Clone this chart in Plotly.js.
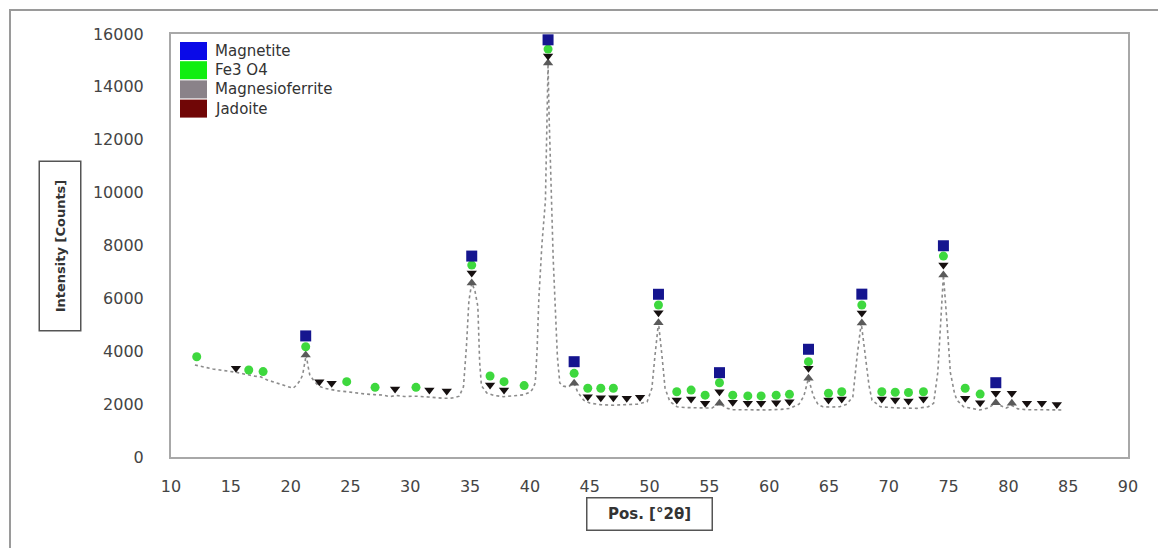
<!DOCTYPE html>
<html>
<head>
<meta charset="utf-8">
<script src="https://cdn.plot.ly/plotly-3.0.1.min.js"></script>
<style>html,body{margin:0;padding:0;background:#fff;}#chart{width:1158px;height:548px;}</style>
</head>
<body>
<div id="chart"></div>
<script>
// ---- Diffraction pattern ----
const patternX = [12.0, 12.5, 13.0, 13.5, 14.0, 14.5, 15.0, 15.5, 16.0, 16.5, 17.0, 17.5, 18.0, 18.5, 19.0, 19.5, 20.0, 20.2, 20.5, 20.8, 21.0, 21.15, 21.3, 21.45, 21.6, 21.9, 22.3, 22.8, 23.5, 24.0, 24.7, 25.5, 26.3, 27.0, 27.75, 28.3, 28.8, 29.5, 30.5, 31.5, 32.0, 32.75, 33.5, 34.1, 34.45, 34.7, 34.9, 35.14, 35.4, 35.65, 35.8, 35.95, 36.4, 37.0, 37.8, 38.5, 39.45, 40.0, 40.2, 40.45, 40.6, 40.75, 41.0, 41.3, 41.45, 41.52, 41.6, 41.8, 41.95, 42.1, 42.3, 42.5, 42.8, 43.2, 43.7, 44.0, 44.5, 45.0, 45.9, 47.0, 48.1, 49.0, 49.8, 50.2, 50.45, 50.75, 51.05, 51.3, 51.7, 52.3, 53.0, 54.5, 55.2, 55.85, 56.4, 57.0, 58.0, 59.8, 61.0, 61.75, 62.5, 62.9, 63.29, 63.7, 64.1, 64.5, 65.2, 65.9, 66.5, 67.0, 67.35, 67.7, 68.05, 68.35, 68.6, 69.3, 70.5, 72.35, 73.3, 73.75, 74.1, 74.35, 74.57, 74.85, 75.15, 75.5, 75.7, 76.25, 77.0, 77.6, 78.3, 78.75, 78.95, 79.3, 79.8, 80.3, 80.8, 81.5, 82.5, 83.5, 84.6];
const patternY = [3480, 3420, 3380, 3330, 3300, 3260, 3240, 3200, 3150, 3100, 3060, 3030, 2920, 2850, 2780, 2700, 2650, 2600, 2720, 2900, 3100, 3450, 3860, 3450, 3100, 2910, 2700, 2600, 2530, 2500, 2470, 2420, 2380, 2360, 2340, 2280, 2330, 2290, 2300, 2270, 2250, 2220, 2230, 2300, 2660, 4200, 5900, 6580, 6300, 5700, 3600, 2700, 2420, 2330, 2280, 2300, 2350, 2450, 2550, 2800, 4000, 6000, 8000, 9700, 13000, 14900, 13000, 9700, 7500, 5900, 3800, 2800, 2680, 2650, 2790, 2450, 2150, 2040, 1980, 1960, 1970, 2000, 2090, 2600, 3800, 5080, 3800, 2600, 2100, 1900, 1870, 1840, 1850, 2030, 1850, 1790, 1780, 1780, 1800, 1840, 2000, 2300, 2975, 2300, 1980, 1900, 1890, 1900, 2000, 2280, 3800, 5070, 3800, 2700, 2150, 1900, 1860, 1840, 1900, 2030, 3200, 5200, 6885, 5200, 3200, 2400, 2150, 1900, 1820, 1780, 1850, 1970, 2050, 1950, 1850, 1950, 1820, 1790, 1780, 1780, 1780];

// ---- Phase markers ----
const phaseNames = ["Magnetite", "Fe3 O4", "Magnesioferrite", "Jadoite"];

const magnetiteX = [21.26, 35.14, 41.52, 43.70, 50.75, 55.85, 63.29, 67.75, 74.57, 78.95];
const magnetiteY = [4580, 7600, 15780, 3605, 6155, 3190, 4075, 6160, 7990, 2810];

const fe3o4X = [12.15, 16.5, 17.7, 21.26, 24.69, 27.06, 30.48, 35.14, 36.67, 37.84, 39.52, 41.52, 43.70, 44.84, 45.93, 46.98, 50.75, 52.28, 53.48, 54.65, 55.85, 56.96, 58.22, 59.33, 60.59, 61.70, 63.29, 64.96, 66.07, 67.75, 69.42, 70.54, 71.65, 72.9, 74.57, 76.39, 77.64];
const fe3o4Y = [3790, 3290, 3230, 4170, 2850, 2635, 2635, 7260, 3065, 2850, 2700, 15430, 3165, 2600, 2600, 2600, 5750, 2470, 2530, 2340, 2810, 2340, 2310, 2310, 2340, 2370, 3605, 2410, 2470, 5750, 2470, 2450, 2440, 2470, 7600, 2600, 2380];

const magnesioX = [21.26, 35.14, 41.52, 43.70, 50.75, 55.85, 63.29, 67.75, 74.57, 78.95, 80.29];
const magnesioY = [3860, 6580, 14900, 2790, 5080, 2030, 2975, 5070, 6885, 2055, 2030];

const jadoiteX = [15.43, 22.4, 23.43, 28.73, 31.6, 33.05, 35.14, 36.67, 37.84, 41.52, 44.84, 45.93, 46.98, 48.1, 49.21, 50.75, 52.28, 53.48, 54.65, 55.85, 56.96, 58.22, 59.33, 60.59, 61.7, 63.29, 64.96, 66.07, 67.75, 69.42, 70.54, 71.65, 72.9, 74.57, 76.39, 77.64, 78.95, 80.29, 81.55, 82.8, 84.05];
const jadoiteY = [3355, 2850, 2790, 2570, 2535, 2495, 6960, 2725, 2535, 15170, 2280, 2240, 2240, 2220, 2260, 5460, 2155, 2190, 2030, 2470, 2070, 2030, 2030, 2050, 2090, 3355, 2155, 2190, 5450, 2190, 2155, 2120, 2190, 7260, 2220, 2050, 2410, 2410, 2030, 2030, 1990];

// ---- Axis ticks ----
const xTicks = [10, 15, 20, 25, 30, 35, 40, 45, 50, 55, 60, 65, 70, 75, 80, 85, 90];
const yTicks = [0, 2000, 4000, 6000, 8000, 10000, 12000, 14000, 16000];

// ---- Styling ----
const legendColors = ["#0a0ae8", "#10ee10", "#8a8289", "#700606"];
const W = 1158, H = 548;
const M = {l: 171, r: 30, t: 34, b: 91};
const pw = W - M.l - M.r, ph = H - M.t - M.b;
const px2x = p => (p - M.l) / pw;
const py2y = p => 1 - (p - M.t) / ph;

const traces = [
  {x: patternX, y: patternY, type: "scatter", mode: "lines",
   line: {color: "#8c8c8c", width: 1.6, dash: "dot"}, showlegend: false, hoverinfo: "x+y"},
  {x: magnesioX, y: magnesioY, type: "scatter", mode: "markers", name: phaseNames[2],
   marker: {symbol: "triangle-up", size: 9, color: "#5a5a5a"}, showlegend: false, cliponaxis: false},
  {x: jadoiteX, y: jadoiteY, type: "scatter", mode: "markers", name: phaseNames[3],
   marker: {symbol: "triangle-down", size: 9, color: "#161010"}, showlegend: false, cliponaxis: false},
  {x: fe3o4X, y: fe3o4Y, type: "scatter", mode: "markers", name: phaseNames[1],
   marker: {symbol: "circle", size: 9, color: "#3ed83e"}, showlegend: false, cliponaxis: false},
  {x: magnetiteX, y: magnetiteY, type: "scatter", mode: "markers", name: phaseNames[0],
   marker: {symbol: "square", size: 11, color: "#15158f"}, showlegend: false, cliponaxis: false}
];

const shapes = [
  // outer frame (only top and left edges visible)
  {type: "rect", xref: "paper", yref: "paper", x0: px2x(10), x1: px2x(1175), y0: py2y(565), y1: py2y(10),
   line: {color: "#9a9a9a", width: 2}, fillcolor: "rgba(0,0,0,0)", layer: "below"}
];
const annotations = [];
// legend swatches and text
phaseNames.forEach((n, i) => {
  const top = 42 + i * 19.2, bot = top + 18;
  shapes.push({type: "rect", xref: "paper", yref: "paper", x0: px2x(180), x1: px2x(207),
    y0: py2y(bot), y1: py2y(top), line: {width: 0}, fillcolor: legendColors[i]});
  annotations.push({xref: "paper", yref: "paper", x: px2x(213), y: py2y((top + bot) / 2),
    xanchor: "left", yanchor: "middle", showarrow: false, text: n,
    font: {family: "DejaVu Sans", size: 15, color: "#333"}});
});
// axis titles in boxes
annotations.push({xref: "paper", yref: "paper", x: px2x(60.5), y: py2y(246), showarrow: false,
  xanchor: "center", yanchor: "middle",
  text: "<b>Intensity [Counts]</b>", textangle: -90, width: 164, height: 36, borderpad: 2,
  bordercolor: "#555", borderwidth: 1.5, bgcolor: "#fff",
  font: {family: "DejaVu Sans", size: 13, color: "#333"}});
annotations.push({xref: "paper", yref: "paper", x: px2x(649), y: py2y(513.5), showarrow: false,
  xanchor: "center", yanchor: "middle",
  text: "<b>Pos. [°2θ]</b>", width: 120, height: 27, borderpad: 2,
  bordercolor: "#555", borderwidth: 1.5, bgcolor: "#fff",
  font: {family: "DejaVu Sans", size: 15, color: "#333"}});

const layout = {
  width: W, height: H,
  margin: M,
  paper_bgcolor: "#fff", plot_bgcolor: "#fff",
  showlegend: false,
  font: {family: "DejaVu Sans", color: "#444"},
  xaxis: {range: [10, 90], tickvals: xTicks, ticktext: xTicks.map(String), showgrid: false, zeroline: false,
    showline: true, mirror: true, linecolor: "#a8a8a8", linewidth: 2, ticks: "",
    ticklabelstandoff: 14, tickfont: {family: "DejaVu Sans", size: 16, color: "#444"}},
  yaxis: {range: [0, 16000], tickvals: yTicks, ticktext: yTicks.map(String), showgrid: false, zeroline: false,
    showline: true, mirror: true, linecolor: "#a8a8a8", linewidth: 2, ticks: "",
    ticklabelstandoff: 22, tickfont: {family: "DejaVu Sans", size: 16, color: "#444"}},
  shapes: shapes,
  annotations: annotations
};

Plotly.newPlot("chart", traces, layout, {displayModeBar: false, staticPlot: true});
</script>
</body>
</html>
